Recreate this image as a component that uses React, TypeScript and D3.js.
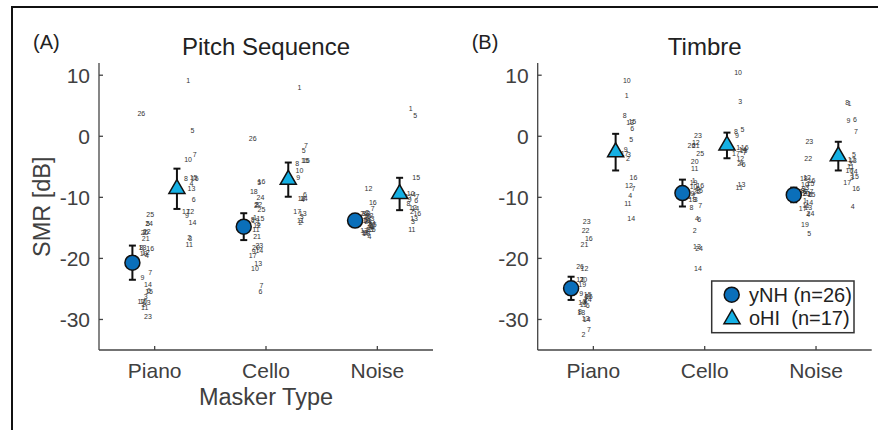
import React from "react";
import * as d3 from "d3";

const categories = ["Piano", "Cello", "Noise"];
const groupNames = ["yNH (n=26)", "oHI  (n=17)"];
const yTicks = [10, 0, -10, -20, -30];

// (A) Pitch Sequence – individual SMR per listener (index + 1 = listener number)
const pitchYnhPiano = [-27.5, -15.7, -26.2, -19.6, -14.3, -25.3, -22.3, -18.2, -23.1, -27.0, -28.0, -19.0, -27.2, -24.2, -25.4, -18.4, -27.1, -18.3, -19.2, -15.8, -16.7, -15.6, -29.5, -14.3, -12.9, 3.7];
const pitchYnhCello = [-13.3, -11.3, -11.1, -14.5, -7.5, -25.4, -24.5, -13.6, -18.9, -21.7, -15.3, -14.6, -20.8, -18.7, -13.5, -7.4, -19.6, -9.1, -13.8, -18.3, -16.4, -11.2, -17.9, -10.1, -12.0, -0.3];
const pitchYnhNoise = [-13.7, -12.5, -12.7, -16.4, -14.6, -14.8, -11.8, -12.6, -15.8, -13.8, -13.8, -8.5, -15.2, -15.0, -15.3, -10.9, -15.5, -15.8, -15.9, -13.2, -14.0, -13.0, -13.5, -14.3, -14.5, -12.6];
const pitchOhiPiano = [9.2, -16.6, -16.8, -7.8, 0.9, -10.4, -3.0, -6.9, -13.0, -3.8, -17.7, -12.3, -8.6, -14.2, -6.8, -6.9, -12.3];
const pitchOhiCello = [8.0, -14.2, -13.2, -10.3, -2.3, -9.5, -1.6, -4.4, -6.7, -5.6, -13.8, -10.2, -12.6, -10.2, -4.0, -4.0, -12.4];
const pitchOhiNoise = [4.6, -12.3, -13.9, -9.5, 3.4, -10.5, -9.8, -11.0, -10.3, -9.4, -15.3, -11.7, -13.4, -11.8, -6.7, -12.6, -9.8];
const pitchYnhMean = [-20.7, -14.8, -13.8];
const pitchYnhErr = [2.8, 2.2, 0.8];
const pitchOhiMean = [-8.6, -7.1, -9.45];
const pitchOhiErr = [3.3, 2.8, 2.65];

// (B) Timbre
const timbreYnhPiano = [-23.4, -32.5, -27.1, -27.0, -26.2, -27.8, -31.7, -28.7, -25.7, -27.3, -27.6, -21.6, -29.8, -30.0, -26.0, -16.7, -23.5, -28.9, -24.3, -23.4, -17.8, -15.4, -13.9, -26.8, -26.3, -21.3];
const timbreYnhCello = [-7.3, -15.4, -10.3, -13.4, -8.6, -13.6, -11.4, -11.6, -9.4, -8.3, -5.3, -1.0, -18.0, -21.6, -8.9, -8.1, -9.8, -10.4, -7.5, -4.1, -1.6, -9.1, 0.2, -18.4, -2.8, -1.5];
const timbreYnhNoise = [-10.6, -9.0, -8.4, -12.8, -16.0, -9.5, -9.1, -8.9, -8.5, -7.9, -11.4, -6.8, -11.7, -10.8, -7.8, -7.2, -11.8, -7.0, -14.4, -9.4, -9.3, -3.6, -0.9, -12.7, -9.6, -9.0];
const timbreOhiPiano = [6.6, -3.6, -3.0, -9.7, -0.5, 1.2, -8.6, 3.4, -2.2, 9.1, -11.0, -8.1, 2.2, -13.4, 2.4, -6.7, -2.9];
const timbreOhiCello = [-1.8, -4.4, 5.7, -4.5, 1.1, -4.6, -2.6, 0.7, 0.1, 10.4, -8.4, -3.7, -7.9, -2.2, -2.3, -1.9, -2.8];
const timbreOhiNoise = [5.3, -4.4, -6.8, -11.5, -3.0, 2.8, 0.8, 5.6, 2.6, -5.6, -4.9, -3.8, -3.9, -5.8, -6.6, -8.6, -7.5];
const timbreYnhMean = [-24.9, -9.3, -9.6];
const timbreYnhErr = [1.9, 2.2, 1.2];
const timbreOhiMean = [-2.6, -1.5, -3.25];
const timbreOhiErr = [3.0, 2.1, 2.35];

const FONT = "'Liberation Sans', Arial, Helvetica, sans-serif";
const TXT = "#404040";
const BLUE = "#0a6fba";
const CYAN = "#14b0e4";

const panels = [
  {
    tag: "(A)", title: "Pitch Sequence", left: 99, right: 433, xLabel: "Masker Type",
    ynh: [pitchYnhPiano, pitchYnhCello, pitchYnhNoise],
    ohi: [pitchOhiPiano, pitchOhiCello, pitchOhiNoise],
    ynhMean: pitchYnhMean, ynhErr: pitchYnhErr, ohiMean: pitchOhiMean, ohiErr: pitchOhiErr,
  },
  {
    tag: "(B)", title: "Timbre", left: 537.7, right: 871.7, xLabel: "",
    ynh: [timbreYnhPiano, timbreYnhCello, timbreYnhNoise],
    ohi: [timbreOhiPiano, timbreOhiCello, timbreOhiNoise],
    ynhMean: timbreYnhMean, ynhErr: timbreYnhErr, ohiMean: timbreOhiMean, ohiErr: timbreOhiErr,
  },
];

const yScale = d3.scaleLinear().domain([-35, 12]).range([350, 63]);
const triangle = d3.symbol(d3.symbolTriangle, 112)();

// small fixed spread so the listener numbers don't stack exactly
const spread = (i: number) => (((i * 37 + 11) % 9) - 4) * 1.1;

function ErrorBar({ x, mean, err }: { x: number; mean: number; err: number }) {
  const y0 = yScale(mean + err), y1 = yScale(mean - err);
  return (
    <g stroke="#111" strokeWidth={2}>
      <line x1={x} x2={x} y1={y0} y2={y1} />
      <line x1={x - 3.5} x2={x + 3.5} y1={y0} y2={y0} />
      <line x1={x - 3.5} x2={x + 3.5} y1={y1} y2={y1} />
    </g>
  );
}

function Panel({ p }: { p: (typeof panels)[number] }) {
  const x = d3.scaleLinear().domain([0.5, 3.5]).range([p.left, p.right]);
  const mid = (p.left + p.right) / 2;
  return (
    <g fontFamily={FONT}>
      <text x={p.left - 66} y={48.5} fontSize={20} fill="#222">{p.tag}</text>
      <text x={mid} y={55} fontSize={24} fill="#222" textAnchor="middle">{p.title}</text>

      {/* axes */}
      <g stroke="#444" strokeWidth={1.3} fill="none">
        <line x1={p.left} x2={p.left} y1={yScale(12)} y2={yScale(-35)} />
        <line x1={p.left} x2={p.right} y1={yScale(-35)} y2={yScale(-35)} />
        {yTicks.map((t) => (
          <line key={t} x1={p.left} x2={p.left + 4} y1={yScale(t)} y2={yScale(t)} />
        ))}
        {categories.map((c, i) => (
          <line key={c} x1={x(i + 1)} x2={x(i + 1)} y1={yScale(-35)} y2={yScale(-35) - 4} />
        ))}
      </g>
      {yTicks.map((t) => (
        <text key={t} x={p.left - 9} y={yScale(t)} dy="0.36em" fontSize={21} fill={TXT} textAnchor="end">{t}</text>
      ))}
      {categories.map((c, i) => (
        <text key={c} x={x(i + 1)} y={377.5} fontSize={21} fill={TXT} textAnchor="middle">{c}</text>
      ))}
      {p.xLabel && (
        <text x={mid} y={405} fontSize={23.5} fill={TXT} textAnchor="middle">{p.xLabel}</text>
      )}

      {/* listener numbers */}
      <g fontSize={7} fill="#333" textAnchor="middle">
        {p.ynh.map((vals, ci) =>
          vals.map((v, i) => (
            <text key={`y${ci}-${i}`} x={x(ci + 1 - 0.08) + spread(i)} y={yScale(v)} dy="0.35em">{i + 1}</text>
          ))
        )}
        {p.ohi.map((vals, ci) =>
          vals.map((v, i) => (
            <text key={`o${ci}-${i}`} x={x(ci + 1 + 0.32) + spread(i)} y={yScale(v)} dy="0.35em">{i + 1}</text>
          ))
        )}
      </g>

      {/* group means with error bars */}
      {categories.map((c, i) => (
        <g key={c}>
          <ErrorBar x={x(i + 1 - 0.2)} mean={p.ynhMean[i]} err={p.ynhErr[i]} />
          <circle cx={x(i + 1 - 0.2)} cy={yScale(p.ynhMean[i])} r={7.5} fill={BLUE} stroke="#111" strokeWidth={1.5} />
          <ErrorBar x={x(i + 1 + 0.2)} mean={p.ohiMean[i]} err={p.ohiErr[i]} />
          <path d={triangle} transform={`translate(${x(i + 1 + 0.2)},${yScale(p.ohiMean[i])})`} fill={CYAN} stroke="#111" strokeWidth={1.5} />
        </g>
      ))}
    </g>
  );
}

export default function App() {
  return (
    <svg width={878} height={430} style={{ position: "absolute", left: 0, top: 0, background: "#fff" }}>
      <rect width={878} height={430} fill="#fff" />
      <path d="M12,431V7H879" fill="none" stroke="#111" strokeWidth={2} />
      <text x={42} y={206.7} transform="rotate(-90,42,206.7)" dy="0.35em" fontFamily={FONT} fontSize={23.5} fill={TXT} textAnchor="middle">SMR [dB]</text>
      {panels.map((p) => <Panel key={p.tag} p={p} />)}

      {/* legend */}
      <g fontFamily={FONT}>
        <rect x={711.7} y={281} width={142.3} height={51.7} fill="#fff" stroke="#333" strokeWidth={1.5} />
        <circle cx={731.7} cy={294.7} r={7.5} fill={BLUE} stroke="#111" strokeWidth={1.5} />
        <path d={triangle} transform="translate(732,319)" fill={CYAN} stroke="#111" strokeWidth={1.5} />
        <text x={749} y={301.5} fontSize={20} fill="#222" style={{ whiteSpace: "pre" }}>{groupNames[0]}</text>
        <text x={749} y={325} fontSize={20} fill="#222" style={{ whiteSpace: "pre" }}>{groupNames[1]}</text>
      </g>
    </svg>
  );
}
